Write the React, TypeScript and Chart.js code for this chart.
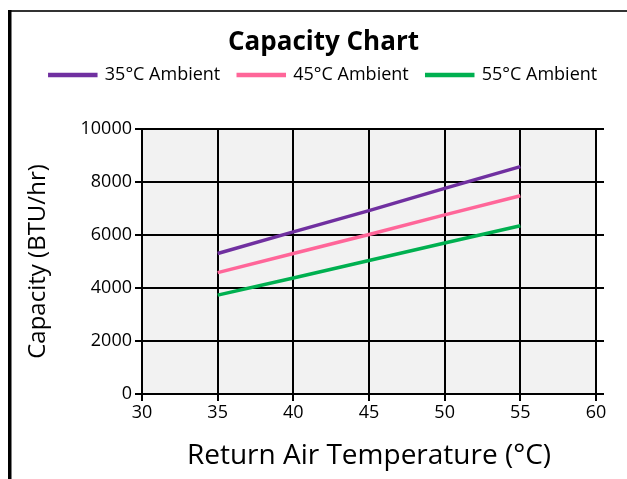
import React, { useEffect, useRef } from "react";
import { Chart, registerables } from "chart.js";

Chart.register(...registerables);

const temperatures = [35, 40, 45, 50, 55];
const ambient35 = [5300, 6120, 6920, 7760, 8580];
const ambient45 = [4580, 5300, 6020, 6760, 7480];
const ambient55 = [3730, 4380, 5040, 5700, 6350];
const seriesLabels = ["35°C Ambient", "45°C Ambient", "55°C Ambient"];
const seriesColors = ["#7030a0", "#ff6699", "#00b050"];

const FONT = "'Open Sans', 'Noto Sans', sans-serif";

export default function App() {
  const ref = useRef<HTMLCanvasElement | null>(null);

  useEffect(() => {
    if (!ref.current) return;
    const series = [ambient35, ambient45, ambient55];
    const chart = new Chart(ref.current, {
      type: "line",
      data: {
        datasets: series.map((vals, i) => ({
          label: seriesLabels[i],
          data: vals.map((v, j) => ({ x: temperatures[j], y: v })),
          borderColor: seriesColors[i],
          backgroundColor: seriesColors[i],
          borderWidth: 3.5,
          pointRadius: 0,
          tension: 0,
          fill: false,
        })),
      },
      options: {
        animation: false,
        responsive: false,
        events: [],
        layout: { padding: { left: 20, right: 0, top: 0, bottom: 0 } },
        plugins: {
          tooltip: { enabled: false },
          title: {
            display: true,
            text: "Capacity Chart",
            color: "#000",
            font: { family: FONT, size: 26, weight: "bold", lineHeight: 1.0 },
            padding: { top: 30, bottom: -8 },
          },
          legend: {
            display: true,
            position: "top",
            labels: {
              color: "#000",
              font: { family: FONT, size: 18 },
              boxWidth: 46,
              boxHeight: 1,
              padding: 18,
            },
          },
        },
        scales: {
          x: {
            type: "linear",
            min: 30,
            max: 60,
            ticks: { stepSize: 5, color: "#000", font: { family: FONT, size: 18 }, padding: 1 },
            grid: { color: "#000", lineWidth: 2, tickLength: 7, drawTicks: true },
            border: { color: "#000", width: 2 },
            title: {
              display: true,
              text: "Return Air Temperature (°C)",
              color: "#000",
              font: { family: FONT, size: 28 },
              padding: { top: 0, bottom: 6 },
            },
            afterFit: (s: any) => {
              s.height = 85;
            },
          },
          y: {
            type: "linear",
            position: "left",
            min: 0,
            max: 10000,
            ticks: {
              stepSize: 2000,
              color: "#000",
              font: { family: FONT, size: 18 },
              padding: 3,
              format: { useGrouping: false },
            },
            grid: { color: "#000", lineWidth: 2, tickLength: 7, drawTicks: true },
            border: { color: "#000", width: 2 },
            title: {
              display: true,
              text: "Capacity (BTU/hr)",
              color: "#000",
              font: { family: FONT, size: 24 },
              padding: { top: 4, bottom: 0 },
            },
            afterFit: (s: any) => {
              s.width = 122;
            },
          },
          y2: {
            type: "linear",
            position: "right",
            min: 0,
            max: 10000,
            ticks: { stepSize: 2000, display: false },
            grid: { color: "#000", lineWidth: 2, tickLength: 8, drawTicks: true, drawOnChartArea: false },
            border: { display: false },
            afterFit: (s: any) => {
              s.width = 31;
            },
          },
        },
      },
      plugins: [
        {
          id: "layoutFix",
          beforeLayout(c: any) {
            const lg = c.legend;
            if (lg && !lg.__patched) {
              const orig = lg.fit.bind(lg);
              lg.fit = function () {
                orig();
                this.height = 81;
              };
              lg.__patched = true;
            }
          },
        },
        {
          id: "bgFrame",
          beforeDraw(c: any) {
            const ctx = c.ctx;
            const a = c.chartArea;
            ctx.save();
            ctx.fillStyle = "#ffffff";
            ctx.fillRect(0, 0, c.width, c.height);
            ctx.fillStyle = "#f2f2f2";
            ctx.fillRect(a.left, a.top, a.right - a.left, a.bottom - a.top);
            ctx.fillStyle = "#333333";
            ctx.fillRect(8, 10, c.width - 8, 2);
            ctx.fillStyle = "#000000";
            ctx.fillRect(8, 10, 3.5, c.height - 10);
            ctx.restore();
          },
        },
      ],
    } as any);
    return () => chart.destroy();
  }, []);

  return (
    <div style={{ position: "absolute", left: 0, top: 0, width: 627, height: 479 }}>
      <canvas ref={ref} width={627} height={479} style={{ width: 627, height: 479, display: "block" }} />
    </div>
  );
}
